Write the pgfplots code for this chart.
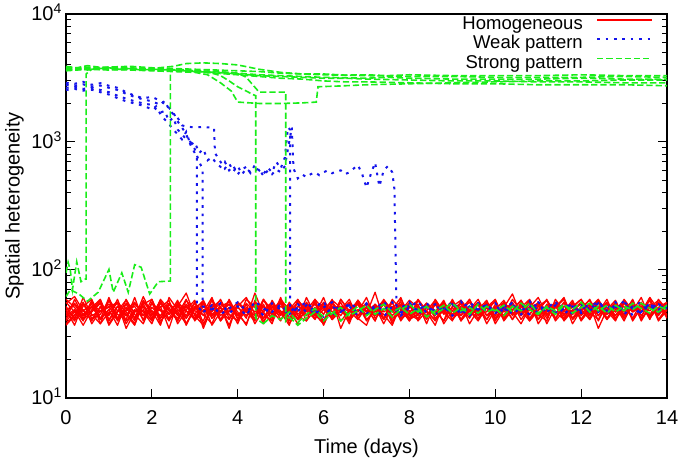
\documentclass[border=0pt]{standalone}
\usepackage{pgfplots}
\pgfplotsset{compat=1.18}
\usepackage{pgfplotstable}
\usepackage{fontspec}
\setmainfont{Liberation Sans}
\definecolor{hred}{rgb}{1,0,0}
\definecolor{wblue}{rgb}{0.08,0.08,0.92}
\definecolor{sgreen}{rgb}{0.1,0.93,0.1}
\tikzset{
  hstyle/.style={hred, line width=1.3pt, line join=round},
  wstyle/.style={wblue, line width=2pt, dash pattern=on 2.7pt off 5.7pt},
  sstyle/.style={sgreen, line width=1.6pt, dash pattern=on 6.3pt off 2.9pt},
}
\pgfplotstableread{
x r1 r2 r3 r4 r5 r6 r7 r8 r9 r10 r11 r12 r13 r14 r15
0.0 44 51 40 55 47 59 37 48 42 52 45 56 41 49 38
0.2 49 42 47 62 40 51 44 55 48 41 54 47 59 37 45
0.4 40 55 44 48 52 41 56 45 37 61 42 49 44 55 48
0.6 56 45 51 41 59 47 38 52 49 44 58 40 48 42 54
0.8 47 38 59 51 42 55 48 41 58 48 38 52 56 45 41
1.0 52 58 41 45 49 38 54 61 40 51 47 44 37 58 49
1.2 41 48 52 56 37 48 45 42 52 56 41 59 47 40 55
1.4 59 44 45 38 55 58 41 51 44 47 49 40 54 48 35
1.6 45 54 37 49 47 42 61 40 55 38 56 48 42 52 47
1.8 38 47 56 44 54 49 40 58 47 54 44 52 62 41 51
2.0 55 41 48 59 42 40 51 45 38 59 48 42 45 56 44
2.2 48 59 42 40 51 56 44 52 56 42 37 55 49 38 58
2.4 42 49 54 47 58 45 55 35 48 51 61 45 40 54 41
2.6 54 40 44 55 38 52 47 56 42 40 49 58 52 45 48
2.8 37 52 49 42 48 66 38 48 54 58 42 38 44 59 52
3.0 51 45 58 52 41 44 49 41 45 48 55 51 56 40 42
3.2 44 56 38 47 55 37 58 52 40 45 47 56 35 49 55
3.4 58 42 48 61 45 54 42 47 59 38 52 44 51 44 37
3.6 40 51 55 41 52 47 48 59 44 55 40 48 58 52 47
3.8 48 37 45 51 35 58 54 42 51 47 59 41 45 56 54
4.0 52 55 40 44 56 41 45 51 38 56 44 52 40 47 42
4.2 42 47 59 54 48 49 38 44 55 49 48 61 48 37 51
4.4 66 40 51 38 44 42 56 55 47 41 54 45 55 58 44
4.6 45 58 42 49 54 52 47 40 52 59 38 42 47 42 59
4.8 40 48 52 56 40 45 55 48 42 44 58 54 38 51 48
5.0 55 44 47 45 59 56 41 58 61 52 45 48 58 45 40
5.2 48 52 37 55 49 38 49 42 41 47 51 40 49 54 56
5.4 38 41 58 44 42 48 59 52 49 56 41 58 42 41 45
5.6 51 61 48 40 52 55 44 47 44 40 56 49 54 48 52
5.8 44 45 42 59 45 44 51 54 56 49 47 41 45 59 42
6.0 56 38 54 49 38 51 40 45 37 55 52 55 61 38 49
6.2 41 54 44 42 58 41 55 59 52 44 42 47 41 51 58
6.4 49 48 56 52 51 59 48 35 47 51 59 52 48 44 40
6.6 59 42 40 47 41 47 42 49 55 38 48 40 56 55 48
6.8 42 56 49 58 48 54 58 44 42 58 41 56 44 47 55
7.0 37 47 45 41 55 40 47 55 51 47 52 48 51 61 44
7.2 54 52 67 48 45 49 52 48 40 54 45 44 40 42 51
7.4 47 41 41 55 54 58 38 42 58 42 56 54 59 49 45
7.6 52 59 51 38 44 42 51 56 48 49 40 47 48 56 37
7.8 44 49 44 59 52 48 56 40 54 61 48 51 42 41 54
8.0 55 40 54 45 40 55 45 51 44 41 58 42 52 47 48
8.2 40 51 47 51 58 45 41 58 52 45 51 59 44 54 42
8.4 48 44 55 42 47 52 54 47 41 55 42 48 55 38 52
8.6 58 55 42 54 37 44 48 41 59 48 54 40 47 56 47
8.8 45 38 48 47 55 56 40 52 47 40 47 52 58 48 56
9.0 51 48 58 40 48 41 59 44 55 52 56 45 41 44 41
9.2 41 56 40 58 44 51 44 55 40 58 41 55 49 52 49
9.4 52 45 52 48 59 47 52 48 48 44 49 38 56 42 59
9.6 47 54 45 42 41 54 47 40 56 49 59 49 45 55 44
9.8 56 41 56 52 51 38 56 51 44 41 44 58 54 47 51
10.0 38 51 47 44 56 49 41 59 52 54 51 42 42 58 40
10.2 49 44 54 56 42 58 49 42 41 47 55 52 51 40 55
10.4 54 59 41 47 52 44 55 54 49 56 45 41 65 49 48
10.6 44 48 51 38 47 55 45 47 58 41 54 56 44 52 58
10.8 55 40 59 51 58 40 58 55 45 51 41 48 52 45 42
11.0 45 52 44 55 41 48 38 44 54 61 49 54 41 56 52
11.2 40 58 49 45 54 59 48 52 42 45 58 44 48 38 47
11.4 59 47 55 54 45 42 54 41 55 52 40 51 56 51 56
11.6 48 41 40 48 56 52 44 56 47 42 48 61 45 59 41
11.8 42 56 48 58 38 47 56 45 51 55 55 42 52 41 49
12.0 52 45 56 41 49 56 41 51 59 40 44 49 59 48 54
12.2 47 54 42 52 59 44 51 58 41 49 52 41 47 54 45
12.4 56 35 52 47 44 51 59 40 52 58 47 56 41 44 58
12.6 41 49 47 59 51 41 45 54 48 42 56 45 54 55 48
12.8 49 58 55 42 41 54 52 47 56 51 41 52 44 47 40
13.0 58 42 45 49 55 48 42 58 44 47 59 40 56 52 56
13.2 40 52 59 55 47 58 55 41 54 56 48 55 48 42 47
13.4 51 47 41 44 52 40 47 51 42 41 54 47 61 56 52
13.6 45 61 51 54 42 52 58 48 61 52 44 58 42 41 44
13.8 55 41 58 47 56 45 40 55 49 44 51 41 51 59 55
14.0 44 51 48 56 48 55 49 44 45 54 56 48 45 49 42
}\redtab
\pgfplotstableread{
x b1 b2 b3 b4 g3 g4
3.2 47 nan nan nan nan nan
3.4 53 49 nan nan nan nan
3.6 45 55 nan nan nan nan
3.8 50 46 nan nan nan nan
4.0 56 52 nan nan nan nan
4.2 48 44 nan nan nan nan
4.4 52 57 nan nan nan nan
4.6 44 50 nan nan 38 nan
4.8 55 47 nan nan 44 nan
5.0 49 54 nan nan 41 nan
5.2 46 45 nan nan 47 43
5.4 54 51 48 nan 39 37
5.6 47 56 53 nan 45 42
5.8 51 48 45 nan 50 47
6.0 57 43 51 nan 43 40
6.2 44 52 56 nan 48 46
6.4 50 47 47 nan 40 51
6.6 53 55 52 nan 46 44
6.8 46 50 44 nan 52 48
7.0 55 45 54 nan 44 53
7.2 49 53 49 nan 49 45
7.4 43 48 57 nan 54 50
7.6 52 56 46 nan 47 43
7.8 48 44 51 46 51 49
8.0 56 51 55 53 45 54
8.2 45 57 48 48 50 47
8.4 51 46 53 55 43 52
8.6 54 52 45 47 48 45
8.8 47 49 50 52 53 50
9.0 50 54 56 44 46 55
9.2 57 45 47 50 51 48
9.4 44 50 52 56 45 51
9.6 52 55 49 49 54 46
9.8 48 47 54 53 47 52
10.0 55 52 46 47 50 48
10.2 46 48 51 54 44 53
10.4 53 56 55 45 52 47
10.6 49 45 48 51 48 55
10.8 45 51 53 57 55 49
11.0 56 54 46 48 46 45
11.2 50 47 50 52 51 52
11.4 47 53 57 46 45 48
11.6 54 49 45 55 53 54
11.8 45 55 52 49 49 46
12.0 52 46 48 53 56 51
12.2 48 51 55 47 47 55
12.4 55 57 47 54 52 48
12.6 46 48 53 50 46 53
12.8 51 53 49 56 53 47
13.0 57 45 56 48 48 52
13.2 44 52 50 53 55 49
13.4 50 56 46 47 50 55
13.6 53 49 54 55 46 50
13.8 47 54 49 50 52 47
14.0 52 50 53 54 49 53
}\lowtab
\begin{document}
\begin{tikzpicture}
\begin{axis}[
  scale only axis, width=601pt, height=384pt,
  ymode=log, xmin=0, xmax=14, ymin=10, ymax=10000,
  xtick={0,2,...,14}, ytick={10,100,1000,10000},
  yticklabels={10\textsuperscript{1},10\textsuperscript{2},10\textsuperscript{3},10\textsuperscript{4}},
  xtick pos=left, ytick pos=both, tick align=inside,
  major tick length=9pt, minor tick length=5pt,
  every tick/.style={black, line width=1pt},
  axis line style={line width=1.8pt},
  /pgf/number format/assume math mode=true,
  ticklabel style={font=\fontsize{20}{24}\selectfont},
  xticklabel style={anchor=north, inner sep=0pt, yshift=-12.5pt},
  yticklabel style={anchor=base east, inner sep=0pt, xshift=-4pt, yshift=-7pt},
  xlabel={Time (days)}, ylabel={Spatial heterogeneity},
  label style={font=\fontsize{20}{24}\selectfont},
  xlabel style={at={(axis description cs:0.5,-0.1068)}, anchor=north, inner sep=0pt},
  ylabel style={at={(axis description cs:-0.1015,0.5)}, anchor=north, inner sep=0pt},
  legend plot pos=right,
  legend cell align=right,
  legend style={at={(rel axis cs:0.9772,0.9938)}, anchor=north east, draw=none, fill=none,
    inner sep=0pt, column sep=13.3pt, row sep=0pt,
    font=\fontsize{18.5}{20}\selectfont,
    nodes={inner sep=0pt, text height=13pt, text depth=6.3pt}},
  legend image code/.code={\path (0pt,0pt); \draw[#1] (0pt,6.3pt) -- (55pt,6.3pt);},
]
\addlegendimage{hstyle}\addlegendentry{Homogeneous}
\addlegendimage{wstyle}\addlegendentry{Weak pattern}
\addlegendimage{sstyle}\addlegendentry{Strong pattern}

\pgfplotsinvokeforeach{1,...,15}{\addplot[hstyle, forget plot] table[x=x, y=r#1]{\redtab};}

% Weak pattern
\addplot[wstyle, forget plot] coordinates {(0,2900) (0.2,2850) (0.4,2950) (0.6,2800) (0.8,2880) (1.0,2750) (1.2,2650) (1.4,2450) (1.6,2300) (1.8,2200) (2.0,2250) (2.2,2100) (2.4,1850) (2.5,1700) (2.6,1450) (2.7,1300) (2.8,1150) (2.9,950) (3.0,820) (3.05,780) (3.05,52) (3.2,47)};
\addplot[wstyle, forget plot] table[x=x, y=b1]{\lowtab};
\addplot[wstyle, forget plot] coordinates {(0,2650) (0.2,2700) (0.4,2600) (0.6,2650) (0.8,2550) (1.0,2450) (1.2,2300) (1.4,2180) (1.6,2080) (1.8,2000) (2.0,1950) (2.1,1800) (2.2,1700) (2.3,1750) (2.4,1450) (2.5,1550) (2.6,1250) (2.7,1150) (2.8,1050) (2.9,1000) (3.0,880) (3.1,700) (3.18,620) (3.18,52) (3.4,49)};
\addplot[wstyle, forget plot] table[x=x, y=b2]{\lowtab};
\addplot[wstyle, forget plot] coordinates {(0,2800) (0.2,2750) (0.4,2820) (0.6,2700) (0.8,2760) (1.0,2650) (1.2,2550) (1.4,2380) (1.6,2250) (1.8,2150) (2.0,2080) (2.2,1950) (2.3,2100) (2.4,1800) (2.5,1650) (2.6,1550) (2.7,1350) (2.8,1320) (3.0,1300) (3.2,1310) (3.45,1290) (3.47,820) (3.6,700) (3.7,620) (3.8,680) (3.9,590) (4.0,650) (4.1,560) (4.2,620) (4.3,580) (4.4,660) (4.5,600) (4.6,560) (4.7,630) (4.8,580) (4.9,700) (5.0,620) (5.1,760) (5.17,1300) (5.22,1250) (5.22,50) (5.4,48)};
\addplot[wstyle, forget plot] table[x=x, y=b3]{\lowtab};
\addplot[wstyle, forget plot] coordinates {(0,2550) (0.2,2600) (0.4,2520) (0.6,2560) (0.8,2450) (1.0,2350) (1.2,2200) (1.4,2080) (1.6,2000) (1.8,1920) (2.0,1800) (2.1,1900) (2.2,1650) (2.3,1500) (2.4,1380) (2.5,1250) (2.6,1150) (2.7,1050) (2.8,1200) (2.9,950) (3.0,1000) (3.1,820) (3.2,880) (3.3,720) (3.4,760) (3.5,680) (3.6,640) (3.7,700) (3.8,600) (3.9,650) (4.0,560) (4.1,610) (4.2,640) (4.3,570) (4.4,600) (4.5,620) (4.6,540) (4.7,600) (4.8,560) (4.9,610) (5.0,580) (5.1,650) (5.26,1300) (5.3,620) (5.4,520) (5.5,560) (5.6,530) (5.7,560) (5.8,580) (5.9,550) (6.0,580) (6.1,600) (6.2,570) (6.3,590) (6.4,600) (6.5,560) (6.6,580) (6.7,620) (6.8,660) (6.9,560) (7.0,440) (7.1,560) (7.2,690) (7.3,450) (7.4,600) (7.5,650) (7.6,580) (7.65,430) (7.7,50) (7.8,46)};
\addplot[wstyle, forget plot] table[x=x, y=b4]{\lowtab};

% Strong pattern
\addplot[sstyle, forget plot] coordinates {(0,95) (0.05,115) (0.1,100) (0.15,70) (0.25,116) (0.35,81) (0.45,85) (0.47,85) (0.47,3400) (0.6,3700) (0.8,3750) (1.0,3800) (1.25,3700) (1.5,3750) (1.75,3650) (2.0,3700) (2.5,3650) (3.0,3550) (3.5,3500) (4.0,3400) (4.5,3300) (5.0,3250) (5.5,3200) (6.0,3150) (6.5,3150) (7.0,3100) (8.0,3050) (9.0,3000) (10.0,3000) (11.0,2950) (12.0,2950) (13.0,2900) (14.0,2900)};
\addplot[sstyle, forget plot] coordinates {(0,62) (0.1,70) (0.3,65) (0.5,57) (0.75,67) (1.0,101) (1.1,67) (1.3,95) (1.45,67) (1.6,110) (1.75,105) (1.95,65) (2.15,81) (2.43,82) (2.43,3650) (2.6,3700) (3.0,3600) (3.5,3450) (4.0,3350) (4.5,3250) (5.0,3150) (5.5,3100) (6.0,3000) (6.5,2950) (7.0,2950) (8.0,2900) (9.0,2850) (10.0,2850) (11.0,2800) (12.0,2800) (13.0,2800) (14.0,2750)};
\addplot[sstyle, forget plot] coordinates {(0,3750) (0.25,3650) (0.5,3800) (0.75,3700) (1.0,3780) (1.5,3750) (2.0,3650) (2.5,3600) (3.0,3550) (3.4,3450) (3.6,3300) (3.8,3000) (4.0,2700) (4.2,2500) (4.35,2350) (4.42,2300) (4.42,42) (4.6,38)};
\addplot[sstyle, forget plot] table[x=x, y=g3]{\lowtab};
\addplot[sstyle, forget plot] coordinates {(0,3850) (0.25,3750) (0.5,3850) (0.75,3760) (1.0,3850) (1.5,3750) (2.0,3700) (2.5,3650) (3.0,3600) (3.5,3550) (4.0,3450) (4.2,3200) (4.35,2800) (4.5,2450) (4.8,2450) (5.12,2450) (5.12,40) (5.2,43)};
\addplot[sstyle, forget plot] table[x=x, y=g4]{\lowtab};
\addplot[sstyle, forget plot] coordinates {(0,3700) (0.25,3800) (0.5,3650) (0.75,3750) (1.0,3700) (1.5,3650) (2.0,3600) (2.5,3550) (3.0,3500) (3.3,3350) (3.6,2900) (3.85,2500) (4.0,2050) (4.5,2000) (5.0,2000) (5.5,2020) (5.83,2050) (5.87,2700) (6.5,2750) (7.0,2800) (8.0,2850) (9.0,2900) (10.0,2950) (11.0,3000) (12.0,3000) (13.0,3050) (14.0,3050)};
\addplot[sstyle, forget plot] coordinates {(0,3900) (0.25,3800) (0.5,3950) (0.75,3850) (1.0,3850) (1.5,3900) (2.0,3800) (2.5,3750) (3.0,3700) (3.5,3650) (4.0,3600) (4.5,3550) (5.0,3450) (5.5,3400) (6.0,3400) (6.5,3330) (7.0,3350) (7.5,3300) (8.0,3350) (9.0,3300) (10.0,3300) (11.0,3300) (12.0,3350) (13.0,3300) (14.0,3300)};
\addplot[sstyle, forget plot] coordinates {(0,3600) (0.5,3700) (1.0,3650) (1.5,3700) (2.0,3750) (2.5,3900) (2.8,4100) (3.2,4150) (3.6,4100) (4.0,4000) (4.5,3700) (5.0,3500) (5.5,3400) (6.0,3350) (7.0,3300) (8.0,3250) (9.0,3250) (10.0,3200) (11.0,3200) (12.0,3200) (13.0,3250) (14.0,3200)};
\addplot[sstyle, forget plot] coordinates {(0,3650) (0.5,3750) (1.0,3800) (1.5,3800) (2.0,3700) (2.5,3650) (3.0,3600) (3.5,3550) (4.0,3450) (4.5,3350) (5.0,3300) (5.5,3250) (6.0,3200) (7.0,3150) (7.5,3200) (8.0,3150) (9.0,3100) (10.0,3100) (11.0,3100) (12.0,3150) (13.0,3100) (14.0,3100)};
\end{axis}
\pgfresetboundingbox
\path ([shift={(-66pt,-62pt)}]current axis.south west) rectangle ([shift={(13pt,14pt)}]current axis.north east);
\end{tikzpicture}
\end{document}
